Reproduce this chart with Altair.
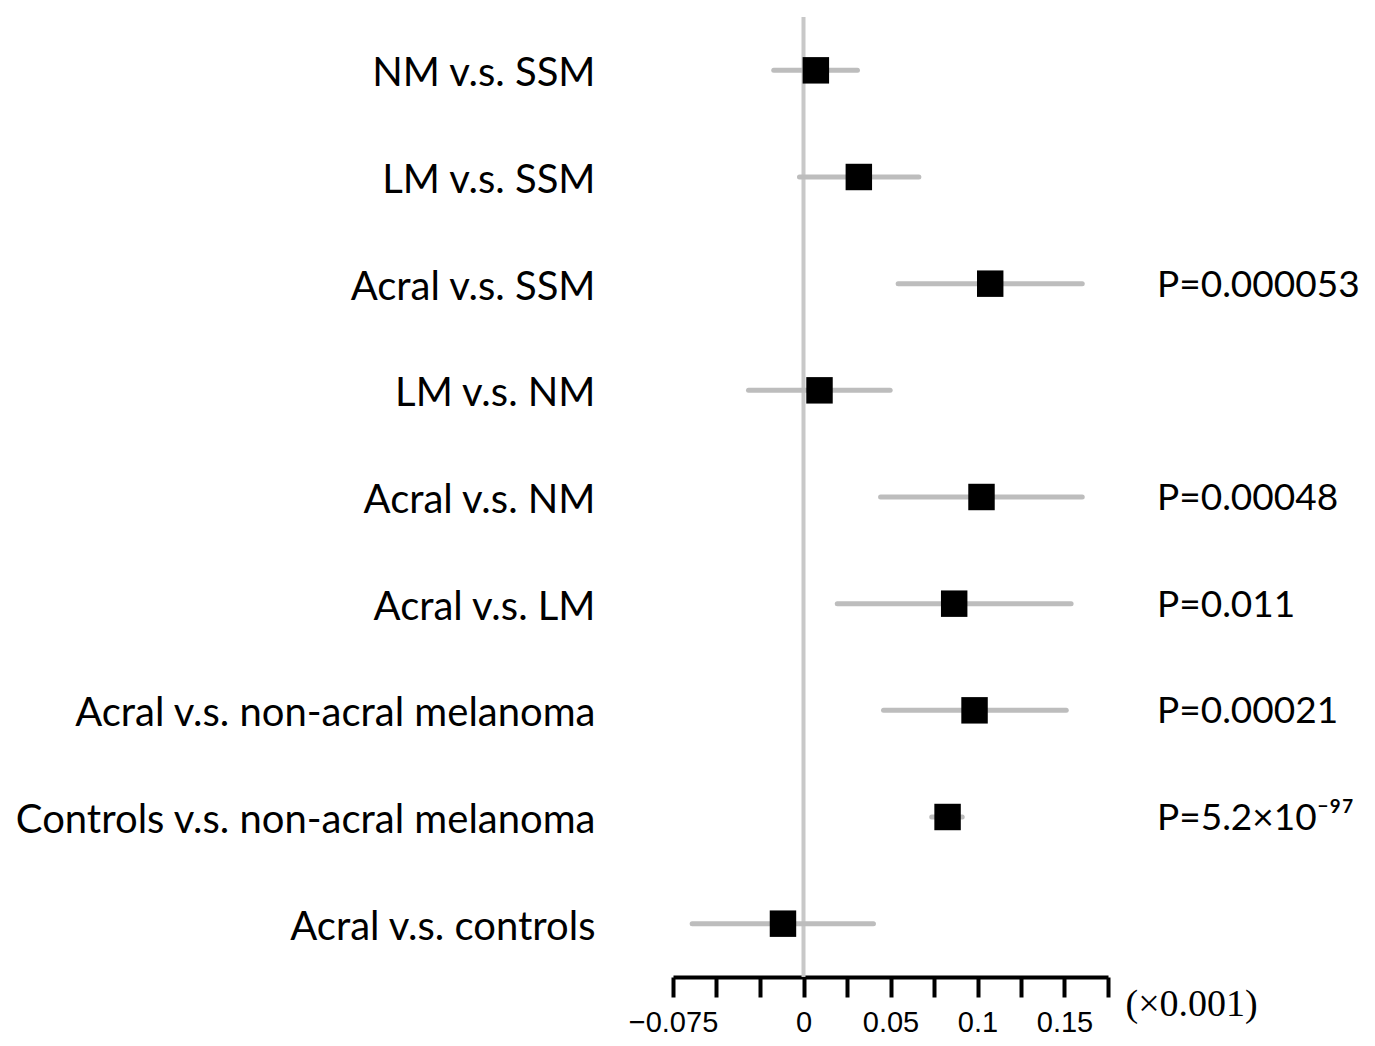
import altair as alt
import pandas as pd

labels = [
    "NM v.s. SSM",
    "LM v.s. SSM",
    "Acral v.s. SSM",
    "LM v.s. NM",
    "Acral v.s. NM",
    "Acral v.s. LM",
    "Acral v.s. non-acral melanoma",
    "Controls v.s. non-acral melanoma",
    "Acral v.s. controls",
]
estimate = [0.0071, 0.0318, 0.1073, 0.0092, 0.1023, 0.0866, 0.0983, 0.0828, -0.0118]
ci_low = [-0.0171, -0.0023, 0.0544, -0.0316, 0.0443, 0.0194, 0.0460, 0.0737, -0.0640]
ci_high = [0.0310, 0.0663, 0.1602, 0.0498, 0.1602, 0.1538, 0.1510, 0.0912, 0.0402]
p_text = ["", "", "P=0.000053", "", "P=0.00048", "P=0.011", "P=0.00021", "P=5.2×10⁻⁹⁷", ""]

tick_values = [-0.075, -0.05, -0.025, 0, 0.025, 0.05, 0.075, 0.1, 0.125, 0.15, 0.175]
tick_labels = ["−0.075", "", "", "0", "", "0.05", "", "0.1", "", "0.15", ""]

df = pd.DataFrame({"label": labels, "est": estimate, "lo": ci_low, "hi": ci_high, "p": p_text})
zero_df = pd.DataFrame({"x": [0.0]})

label_expr = "".join(
    f"round(datum.value*1000)=={round(v * 1000)} ? '{lab}' : "
    for v, lab in zip(tick_values, tick_labels)
) + "''"

xscale = alt.Scale(domain=[-0.075, 0.175], nice=False, zero=False)
xaxis = alt.Axis(
    values=tick_values,
    labelExpr=label_expr,
    grid=False,
    domainColor="black",
    domainWidth=4,
    tickColor="black",
    tickWidth=4,
    tickSize=20,
    labelFont="Liberation Sans",
    labelFontSize=29,
    labelColor="black",
    labelPadding=11,
    labelFlush=False,
    labelOverlap=False,
    title="(×0.001)",
    titleFont="Liberation Serif",
    titleFontSize=38,
    titleFontWeight="normal",
    titleColor="black",
    titleX=452,
    titleY=27,
    titleAlign="left",
    titleBaseline="middle",
)
yenc = alt.Y(
    "label:N",
    sort=labels,
    axis=alt.Axis(
        domain=False,
        ticks=False,
        grid=False,
        labelFont="Lato",
        labelFontSize=40,
        labelColor="black",
        labelPadding=78,
        labelOffset=4,
        labelLimit=0,
        title=None,
    ),
)

zero_line = alt.Chart(zero_df).mark_rule(color="#c8c8c8", strokeWidth=4).encode(
    x=alt.X("x:Q", scale=xscale, axis=xaxis)
)

bars = alt.Chart(df).mark_rule(color="#bdbdbd", strokeWidth=5, strokeCap="round").encode(
    x=alt.X("lo:Q", scale=xscale, axis=xaxis),
    x2="hi:Q",
    y=yenc,
)

squares = alt.Chart(df).mark_square(size=700, color="black", filled=True, opacity=1, strokeWidth=0).encode(
    x=alt.X("est:Q", scale=xscale, axis=xaxis),
    y=yenc,
)

ptext = alt.Chart(df).mark_text(
    align="left", baseline="middle", font="Lato", fontSize=37, color="black", dy=2
).encode(
    x=alt.value(484),
    y=yenc,
    text="p:N",
)

chart = (
    alt.layer(zero_line, bars, squares, ptext)
    .properties(
        width=435,
        height=960,
        autosize=alt.AutoSizeParams(type="none"),
        padding={"left": 665, "top": 9, "right": 258, "bottom": 60},
        background="white",
    )
    .configure_view(stroke=None)
)

chart.save("out.html", embed_options={"renderer": "svg", "actions": False})
